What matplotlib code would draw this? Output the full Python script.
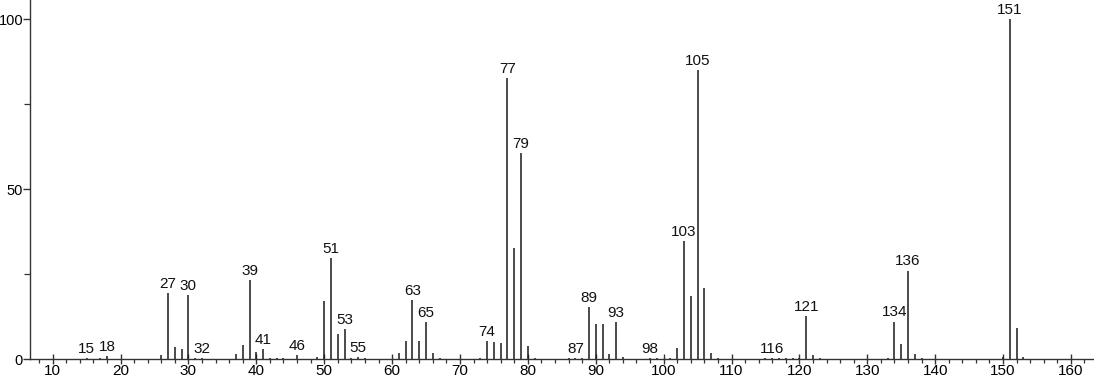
import numpy as np
import matplotlib.pyplot as plt
from matplotlib.ticker import MultipleLocator

# m/z values and relative intensities
mz = [15, 17, 18, 26, 27, 28, 29, 30, 31, 32, 37, 38, 39, 40, 41, 42, 43, 44,
      46, 49, 50, 51, 52, 53, 54, 55, 56, 61, 62, 63, 64, 65, 66, 67, 73,
      74, 75, 76, 77, 78, 79, 80, 81, 86, 87, 88, 89, 90, 91, 92, 93, 94,
      98, 99, 101, 102, 103, 104, 105, 106, 107, 108, 115, 116, 117, 118,
      119, 120, 121, 122, 123, 133, 134, 135, 136, 137, 138, 150, 151, 152, 153]
intensity = [0.4, 0.4, 0.9, 1.3, 19.4, 3.5, 2.9, 19.0, 0.3, 0.5, 1.5, 4.3, 23.2,
             2.1, 3.1, 0.5, 0.3, 0.3, 1.3, 0.6, 17.1, 29.8, 7.5, 8.8, 0.5, 0.6,
             0.4, 1.8, 5.5, 17.5, 5.3, 11.0, 1.8, 0.4, 0.5, 5.5, 5.1, 4.7, 82.8,
             32.8, 60.6, 4.0, 0.5, 0.3, 0.5, 0.3, 15.5, 10.5, 10.5, 1.7, 10.9,
             0.6, 0.4, 0.3, 0.5, 3.4, 34.9, 18.6, 85.2, 20.9, 1.9, 0.5, 0.3,
             0.4, 0.4, 0.4, 0.4, 0.3, 12.6, 1.2, 0.4, 0.5, 11.1, 4.6, 26.1, 1.7,
             0.5, 0.8, 100.0, 9.3, 0.7]

# peaks that carry a label
labelled = [15, 18, 27, 30, 32, 39, 41, 46, 51, 53, 55, 63, 65, 74, 77, 79,
            87, 89, 93, 98, 103, 105, 116, 121, 134, 136, 151]

plt.rcParams['font.family'] = ['Liberation Sans', 'DejaVu Sans']

fig = plt.figure(figsize=(10.94, 3.84), dpi=100)
ax = fig.add_axes([30 / 1094, 24.7 / 384, 1064 / 1094, 359.3 / 384])

ax.vlines(mz, 0, intensity, color='#1a1a1a', linewidth=1.1)

for m, h in zip(mz, intensity):
    if m in labelled:
        ax.annotate(str(m), (m, h), xytext=(0, 1.5), textcoords='offset points',
                    ha='center', va='bottom', fontsize=11, color='#111111')

ax.set_xlim(6.66, 163.4)
ax.set_ylim(0, 105.7)

ax.spines['top'].set_visible(False)
ax.spines['right'].set_visible(False)
for s in ('left', 'bottom'):
    ax.spines[s].set_color('#333333')
    ax.spines[s].set_linewidth(1.0)

ax.xaxis.set_major_locator(MultipleLocator(10))
ax.xaxis.set_minor_locator(MultipleLocator(2))
ax.set_yticks([0, 50, 100])
ax.yaxis.set_minor_locator(MultipleLocator(25))

ax.tick_params(axis='x', which='major', direction='inout', length=7, width=1.0,
               color='#333333', labelsize=11, pad=0)
ax.tick_params(axis='x', which='minor', direction='out', length=3, width=0.9,
               color='#333333')
ax.tick_params(axis='y', which='major', direction='out', length=5, width=1.0,
               color='#333333', labelsize=10.5, pad=0)
ax.tick_params(axis='y', which='minor', direction='out', length=4, width=0.9,
               color='#333333')

fig.savefig('out.png', dpi=100)
